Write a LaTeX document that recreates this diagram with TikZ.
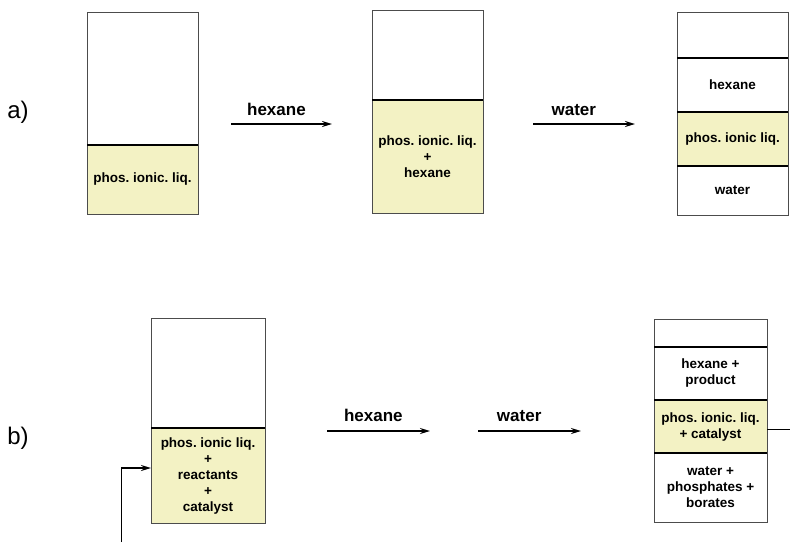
\documentclass[tikz,border=0pt]{standalone}
\usepackage{fontspec}
\setmainfont{Liberation Sans}
\usetikzlibrary{arrows.meta,positioning}
\definecolor{ionic}{RGB}{243,242,196}
\frenchspacing

\begin{document}
\begin{tikzpicture}[x=1pt,y=-1pt,>={Stealth[length=10pt,width=6pt]},
  layer/.style={rectangle,draw=black!70,line width=1pt,inner sep=0pt,outer sep=0pt,
    minimum width=111pt,align=center,font=\fontsize{13.5}{16}\selectfont\bfseries},
  cut/.style={line width=2pt},
  flow/.style={->,line width=1.8pt},
  lbl/.style={font=\fontsize{17}{20}\selectfont\bfseries},
  panel/.style={font=\fontsize{24}{28}\selectfont}]

  \useasboundingbox (0,0) rectangle (790,542);

  % a)
  \node[panel] (a) at (18,112) {a)};

  \node[layer,minimum height=133pt,anchor=north west] (1) at (87,12) {};
  \node[layer,fill=ionic,minimum height=69pt,below=0pt of 1] (1a) {phos. ionic. liq.};

  \node[layer,minimum height=90pt,anchor=north west] (2) at (372,10) {};
  \node[layer,fill=ionic,minimum height=113pt,below=0pt of 2] (2a) {phos. ionic. liq.\\+\\hexane};

  \node[layer,minimum height=46pt,anchor=north west] (3) at (677,12) {};
  \node[layer,minimum height=54pt,below=0pt of 3] (3a) {hexane};
  \node[layer,fill=ionic,minimum height=54pt,below=0pt of 3a] (3b) {phos. ionic liq.};
  \node[layer,minimum height=49pt,below=0pt of 3b] (3c) {water};

  \draw[cut] (1.south west) -- (1.south east);
  \draw[cut] (2.south west) -- (2.south east);
  \draw[cut] (3.south west) -- (3.south east);
  \draw[cut] (3a.south west) -- (3a.south east);
  \draw[cut] (3b.south west) -- (3b.south east);

  \coordinate (h1) at (231,124);
  \coordinate (h2) at (332,124);
  \coordinate (w1) at (533,124);
  \coordinate (w2) at (635,124);
  \draw[flow] (h1) -- node[lbl,above=4pt,pos=.45] (hl) {hexane} (h2);
  \draw[flow] (w1) -- node[lbl,above=4pt,pos=.4] (wl) {water} (w2);

  % b)
  \node[panel] (b) at (18,438) {b)};

  \node[layer,minimum width=114pt,minimum height=110pt,anchor=north west] (4) at (151,318) {};
  \node[layer,minimum width=114pt,fill=ionic,minimum height=95pt,below=0pt of 4] (4a)
    {phos. ionic liq.\\+\\reactants\\+\\catalyst};

  \node[layer,minimum width=113pt,minimum height=28pt,anchor=north west] (5) at (654,319) {};
  \node[layer,minimum width=113pt,minimum height=53pt,below=0pt of 5] (5a) {hexane +\\product};
  \node[layer,minimum width=113pt,fill=ionic,minimum height=53pt,below=0pt of 5a] (5b)
    {phos. ionic. liq.\\+ catalyst};
  \node[layer,minimum width=113pt,minimum height=69pt,below=0pt of 5b] (5c)
    {water +\\phosphates +\\borates};

  \draw[cut] (4.south west) -- (4.south east);
  \draw[cut] (5.south west) -- (5.south east);
  \draw[cut] (5a.south west) -- (5a.south east);
  \draw[cut] (5b.south west) -- (5b.south east);

  \coordinate (h3) at (327,431);
  \coordinate (h4) at (430,431);
  \coordinate (w3) at (478,431);
  \coordinate (w4) at (581,431);
  \draw[flow] (h3) -- node[lbl,above=5pt,pos=.45] (hl2) {hexane} (h4);
  \draw[flow] (w3) -- node[lbl,above=5pt,pos=.4] (wl2) {water} (w4);

  % feed and draw-off
  \coordinate (in) at (121,542);
  \coordinate (out) at (790,429);
  \draw[line width=1pt] (in) -- ++(0,-74) coordinate (bend);
  \draw[flow] (bend) -- (bend -| 4a.west);
  \draw[line width=1pt] (5b.east |- out) -- (out);
\end{tikzpicture}
\end{document}
